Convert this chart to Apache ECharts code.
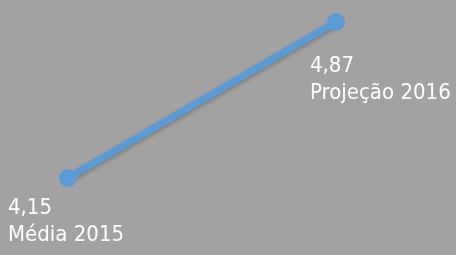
<!DOCTYPE html>
<html>
<head>
<meta charset="utf-8">
<script src="https://cdn.jsdelivr.net/npm/echarts@6/dist/echarts.min.js"></script>
<style>
  html, body { margin: 0; padding: 0; background: #a2a2a2; }
  #chart { width: 456px; height: 255px; }
</style>
</head>
<body>
<div id="chart"></div>
<script>
var categories = ['Média 2015', 'Projeção 2016']
var values = [4.15, 4.87]
// label offsets relative to each marker
var labelPos = [[-51, 26], [-17, 40]]

var chart = echarts.init(document.getElementById('chart'))
var option = {
  backgroundColor: '#a2a2a2',
  grid: { left: 68, right: 120, top: 22, bottom: 77 },
  xAxis: {
    type: 'category',
    boundaryGap: false,
    data: categories,
    show: false
  },
  yAxis: {
    type: 'value',
    min: 4.15,
    max: 4.87,
    show: false
  },
  series: [
    {
      type: 'line',
      symbol: 'circle',
      symbolSize: 18,
      itemStyle: { color: '#5b9bd5' },
      lineStyle: {
        width: 7,
        color: '#5b9bd5',
        shadowColor: 'rgba(0,0,0,0.25)',
        shadowBlur: 4,
        shadowOffsetY: 2
      },
      data: values.map(function (v, i) {
        return {
          value: v,
          label: {
            show: true,
            position: labelPos[i],
            align: 'left',
            verticalAlign: 'top',
            color: '#ffffff',
            fontFamily: '"DejaVu Sans Condensed", sans-serif',
            fontSize: 22,
            lineHeight: 27,
            formatter: String(v).replace('.', ',') + '\n' + categories[i]
          }
        }
      })
    }
  ]
}
chart.setOption(option)
</script>
</body>
</html>
